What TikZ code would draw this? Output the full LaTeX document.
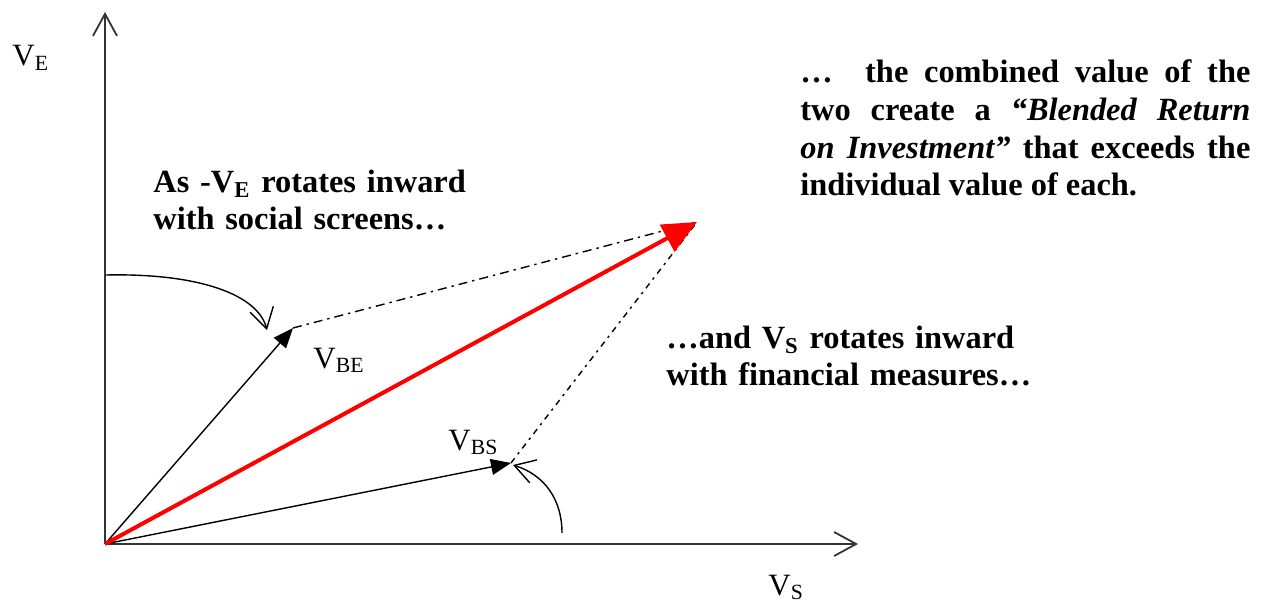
\documentclass[tikz,border=0pt]{standalone}
\usepackage{fontspec}
\setmainfont{Liberation Serif}
\usetikzlibrary{arrows.meta}
\begin{document}
\begin{tikzpicture}[x=0.5pt,y=-0.5pt,
  axis/.style={line width=1pt,draw=black!80,-{Straight Barb[length=11pt,width=12pt,line width=0.9pt]}},
  vec/.style={line width=0.7pt,-{Triangle[length=10pt,width=8pt]}},
  blend/.style={line width=2pt,red,-{Triangle[length=17pt,width=15pt]}},
  guide/.style={line width=0.7pt,dash pattern=on 4.5pt off 2.5pt on 1.2pt off 2.5pt},
  guideb/.style={line width=0.7pt,dash pattern=on 3pt off 2.5pt on 1.2pt off 2.5pt},
  turn/.style={line width=0.7pt,-{Straight Barb[length=10pt,width=12pt,line width=0.7pt]}},
  lab/.style={inner sep=0pt,anchor=base west,font=\fontsize{15.5}{18}\selectfont},
  note/.style={inner sep=0pt,anchor=base west,align=left,font=\bfseries\fontsize{16.2}{18.8}\selectfont}]
\useasboundingbox (0,0) rectangle (1264,610);
\coordinate (O) at (105,544);
\coordinate (Ytop) at (105,12);
\coordinate (Xend) at (858,544);
\coordinate (BE) at (293,328);
\coordinate (BS) at (511,463);
\coordinate (R) at (697,222);
\coordinate (c1s) at (106,275);
\coordinate (c1e) at (267,330);
\coordinate (c2s) at (562,533);
\coordinate (c2e) at (513,465);
% axes
\draw[axis] (O) -- (Ytop);
\draw[axis] (O) -- (Xend);
% guides
\draw[guide] (BE) -- (R);
\draw[guideb] (BS) -- (R);
% vectors
\draw[vec] (O) -- (BE);
\draw[vec] (O) -- (BS);
\draw[blend] (O) -- (R);
% rotation arrows
\draw[turn] (c1s) .. controls (200,273) and (258,295) .. (c1e);
\draw[turn] (c2s) .. controls (562,500) and (545,475) .. (c2e);
% labels
\node[lab] (lVE) at (12,66) {V\textsubscript{E}};
\node[lab] (lVS) at (768,595) {V\textsubscript{S}};
\node[lab] (lVBE) at (313,368) {V\textsubscript{BE}};
\node[lab] (lVBS) at (448,450) {V\textsubscript{BS}};
% notes
\node[note,text width=200pt] (n1) at (153,192) {As -V\textsubscript{E} rotates inward\\with social screens…};
\node[note,text width=220pt] (n2) at (666,348) {…and V\textsubscript{S} rotates inward\\with financial measures…};
\node[note,text width=225pt,align=justify] (n3) at (800,83) {…\quad the combined value of the\linebreak two create a \textit{“Blended Return}\linebreak \textit{on Investment”} that exceeds the\linebreak individual value of each.};
\end{tikzpicture}
\end{document}
